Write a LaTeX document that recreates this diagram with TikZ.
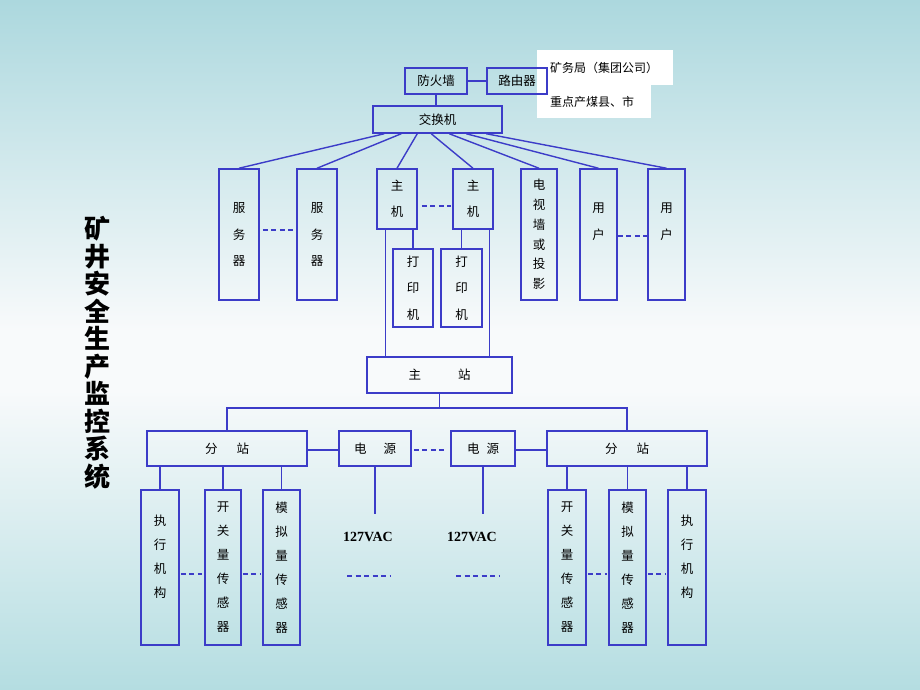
\documentclass[tikz,border=0pt]{standalone}
\usepackage{fontspec}
\newfontfamily\cjk{Noto Sans CJK SC}
\newfontfamily\vacfont{Liberation Serif}
\usetikzlibrary{positioning}
\definecolor{lineblue}{RGB}{60,60,200}
\definecolor{bgteal}{RGB}{172,216,222}
\definecolor{bgwhite}{RGB}{248,250,251}
\definecolor{bgtealb}{RGB}{180,221,225}

\begin{document}
\begin{tikzpicture}[x=1pt, y=-1pt,
  blk/.style={draw=lineblue, line width=1.5pt, inner sep=0pt,
              font=\cjk\fontsize{12.5}{15}\selectfont},
  tallblk/.style={blk, minimum height=131pt},
  lowblk/.style={blk, minimum height=155pt},
  stnblk/.style={blk, minimum height=35pt},
  vtxt/.style={align=center, inner sep=0pt, font=\cjk\fontsize{12.5}{26.5}\selectfont},
  vtxtlow/.style={vtxt, font=\cjk\fontsize{12.5}{24}\selectfont},
  whitebox/.style={fill=white, inner ysep=0pt, inner xsep=13pt, align=left,
                   font=\cjk\fontsize{12}{14}\selectfont},
  ln/.style={draw=lineblue, line width=1.4pt},
  dln/.style={ln, dash pattern=on 5pt off 3.5pt},
  vac/.style={inner sep=0pt, font=\vacfont\bfseries\fontsize{14}{16}\selectfont}
]

%% Background
\shade[top color=bgteal, bottom color=bgwhite] (0,0) rectangle (920,330);
\fill[bgwhite] (0,329) rectangle (920,391);
\shade[top color=bgwhite, bottom color=bgtealb] (0,390) rectangle (920,690);
\useasboundingbox (0,0) rectangle (920,690);

%% Title
\node[font=\cjk\bfseries\fontsize{26}{27.5}\selectfont, align=center, inner sep=0pt]
  (title) at (97,352.5) {矿\\井\\安\\全\\生\\产\\监\\控\\系\\统};

%% Outside networks
\node[whitebox, text width=110pt, minimum height=35pt] (ext1) at (605,67.5)
  {矿务局（集团公司）};
\node[whitebox, text width=88pt, minimum height=33pt] (ext2) at (594,101.5)
  {重点产煤县、市};

%% Network head
\node[blk, minimum width=62pt, minimum height=26pt] (fw) at (436,81) {防火墙};
\node[blk, minimum width=60pt, minimum height=26pt] (rt) at (517,81) {路由器};
\node[blk, minimum width=129pt, minimum height=27pt] (sw) at (437.5,119.5) {交换机};
\draw[ln] (fw) -- (rt);
\draw[ln] (fw.south) -- (fw.south |- sw.north);

%% Upper row
\node[tallblk, minimum width=40pt, label={[vtxt]center:服\\务\\器}] (srv1) at (239,234.5) {};
\node[tallblk, minimum width=40pt, label={[vtxt]center:服\\务\\器}] (srv2) at (317,234.5) {};
\node[blk, minimum width=40pt, minimum height=60pt, label={[vtxt]center:主\\机}] (host1) at (397,199) {};
\node[blk, minimum width=40pt, minimum height=60pt, label={[vtxt]center:主\\机}] (host2) at (473,199) {};
\node[blk, minimum width=40pt, minimum height=78pt, label={[vtxt]center:打\\印\\机}] (prn1) at (413,288) {};
\node[blk, minimum width=41pt, minimum height=78pt, label={[vtxt]center:打\\印\\机}] (prn2) at (461.5,288) {};
\node[tallblk, minimum width=36pt,
      label={[vtxt, font=\cjk\fontsize{12.5}{19.8}\selectfont]center:电\\视\\墙\\或\\投\\影}]
  (tv) at (539,234.5) {};
\node[tallblk, minimum width=37pt, label={[vtxt, yshift=13pt]center:用\\户}] (usr1) at (598.5,234.5) {};
\node[tallblk, minimum width=37pt, label={[vtxt, yshift=13pt]center:用\\户}] (usr2) at (666.5,234.5) {};

%% Switch fan-out
\draw[ln] ([xshift=12pt]sw.south west)  -- (srv1.north);
\draw[ln] ([xshift=29pt]sw.south west)  -- (srv2.north);
\draw[ln] ([xshift=45pt]sw.south west)  -- (host1.north);
\draw[ln] ([xshift=59pt]sw.south west)  -- (host2.north);
\draw[ln] ([xshift=77pt]sw.south west)  -- (tv.north);
\draw[ln] ([xshift=94pt]sw.south west)  -- (usr1.north);
\draw[ln] ([xshift=114pt]sw.south west) -- (usr2.north);

\draw[dln, shorten <=3pt, shorten >=3pt] (srv1.east |- 0,230) -- (srv2.west |- 0,230);
\draw[dln, shorten <=4pt, shorten >=1pt] (host1.east |- 0,206) -- (host2.west |- 0,206);
\draw[dln] (usr1.east |- 0,236) -- (usr2.west |- 0,236);

%% Hosts to printers
\draw[ln] (prn1.north |- host1.south) -- (prn1.north);
\draw[ln] (prn2.north |- host2.south) -- (prn2.north);

%% Master station
\node[blk, minimum width=145pt, minimum height=36pt] (ms) at (439.5,375) {主\hspace{37pt}站};
\draw[ln] ([xshift=9pt]host1.south west) -- ([xshift=9pt]host1.south west |- ms.north);
\draw[ln] ([xshift=-4pt]host2.south east) -- ([xshift=-4pt]host2.south east |- ms.north);

%% Bus to substations
\node[stnblk, minimum width=160pt] (sub1) at (227,448.5) {分\hspace{19pt}站};
\node[stnblk, minimum width=72pt]  (pwr1) at (375,448.5) {电\hspace{17pt}源};
\node[stnblk, minimum width=64pt]  (pwr2) at (483,448.5) {电\hspace{7pt}源};
\node[stnblk, minimum width=160pt] (sub2) at (627,448.5) {分\hspace{19pt}站};

\coordinate (bus) at (439.5,408);
\draw[ln] (ms.south) -- (bus);
\draw[ln] (sub1.north) |- (bus) -| (sub2.north);
\draw[ln] (sub1.east |- 0,450) -- (pwr1.west |- 0,450);
\draw[ln] (pwr2.east |- 0,450) -- (sub2.west |- 0,450);
\draw[dln, shorten <=2pt, shorten >=6pt] (pwr1.east |- 0,450) -- (pwr2.west |- 0,450);

%% Power supplies
\node[vac] (vac1) at (368,537) {127VAC};
\node[vac] (vac2) at (472,537) {127VAC};
\coordinate (pwr1end) at (375,514);
\coordinate (pwr2end) at (483,514);
\draw[ln] (pwr1.south) -- (pwr1end);
\draw[ln] (pwr2.south) -- (pwr2end);

\coordinate (gap1a) at (347,576);
\coordinate (gap1b) at (391,576);
\coordinate (gap2a) at (456,576);
\coordinate (gap2b) at (500,576);
\draw[dln] (gap1a) -- (gap1b);
\draw[dln] (gap2a) -- (gap2b);

%% Field devices, left
\node[lowblk, minimum width=38pt, label={[vtxtlow, yshift=11pt]center:执\\行\\机\\构}] (act1) at (160,567.5) {};
\node[lowblk, minimum width=36pt, label={[vtxtlow]center:开\\关\\量\\传\\感\\器}] (dig1) at (223,567.5) {};
\node[lowblk, minimum width=37pt, label={[vtxtlow]center:模\\拟\\量\\传\\感\\器}] (ana1) at (281.5,567.5) {};
\draw[ln] (sub1.south -| act1.north) -- (act1.north);
\draw[ln] (sub1.south -| dig1.north) -- (dig1.north);
\draw[ln] (sub1.south -| ana1.north) -- (ana1.north);
\draw[dln, shorten <=1pt, shorten >=2pt] (act1.east |- 0,574) -- (dig1.west |- 0,574);
\draw[dln, shorten <=1pt, shorten >=1pt] (dig1.east |- 0,574) -- (ana1.west |- 0,574);

%% Field devices, right
\node[lowblk, minimum width=38pt, label={[vtxtlow]center:开\\关\\量\\传\\感\\器}] (dig2) at (567,567.5) {};
\node[lowblk, minimum width=37pt, label={[vtxtlow]center:模\\拟\\量\\传\\感\\器}] (ana2) at (627.5,567.5) {};
\node[lowblk, minimum width=38pt, label={[vtxtlow, yshift=11pt]center:执\\行\\机\\构}] (act2) at (687,567.5) {};
\draw[ln] (sub2.south -| dig2.north) -- (dig2.north);
\draw[ln] (sub2.south -| ana2.north) -- (ana2.north);
\draw[ln] (sub2.south -| act2.north) -- (act2.north);
\draw[dln, shorten <=1pt, shorten >=1pt] (dig2.east |- 0,574) -- (ana2.west |- 0,574);
\draw[dln, shorten <=1pt, shorten >=1pt] (ana2.east |- 0,574) -- (act2.west |- 0,574);

\end{tikzpicture}
\end{document}
